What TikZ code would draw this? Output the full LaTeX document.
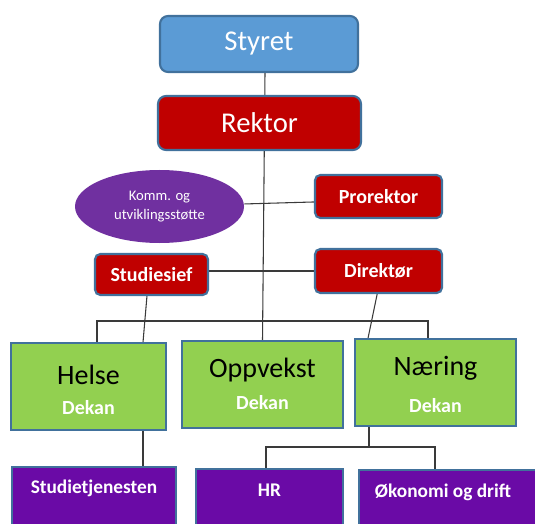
\documentclass[tikz,border=0pt]{standalone}
\usepackage{fontspec}
\setmainfont{Carlito}
\usetikzlibrary{backgrounds,shapes.geometric}
\definecolor{blueF}{HTML}{5B9BD5}
\definecolor{edgeC}{HTML}{41719C}
\definecolor{redF}{HTML}{C00000}
\definecolor{purpE}{HTML}{7030A0}
\definecolor{greenF}{HTML}{92D050}
\definecolor{purpB}{HTML}{6A0AA6}
\definecolor{lineC}{HTML}{3A3A3A}
\def\pxu{0.75pt}
\tikzset{
  topbox/.style={draw=edgeC, line width=1.6pt, rounded corners=6pt, text=white, font=\fontsize{21.5}{25}\selectfont},
  midbox/.style={draw=edgeC, line width=1.6pt, rounded corners=4pt, fill=redF, text=white, font=\bfseries\fontsize{15}{18}\selectfont},
  facbox/.style={draw=edgeC, line width=1.1pt, fill=greenF, minimum height=87*\pxu},
  unitbox/.style={draw=edgeC, line width=1.1pt, fill=purpB, minimum height=92*\pxu},
  facname/.style={text=black, font=\fontsize{21}{25}\selectfont},
  deklabel/.style={text=white, font=\bfseries\fontsize{15}{18}\selectfont},
  unitlabel/.style={text=white, font=\bfseries\fontsize{14.5}{18}\selectfont},
  conn/.style={draw=lineC, line width=0.8pt}
}
\begin{document}
\begin{tikzpicture}[x=0.75pt,y=-0.75pt]
\useasboundingbox (0,0) rectangle (535,524);
\clip (0,0) rectangle (535,524);

% nodes
\node[topbox, fill=blueF, minimum width=198*\pxu, minimum height=56*\pxu] (styret) at (259,44) {Styret};
\node[topbox, fill=redF, minimum width=203*\pxu, minimum height=54*\pxu] (rektor) at (259.5,123) {Rektor};
\node[ellipse, fill=purpE, minimum width=169*\pxu, minimum height=73*\pxu, text=white, align=center,
      font=\fontsize{11}{14}\selectfont] (komm) at (159.5,206.5) {Komm. og\\utviklingsstøtte};
\node[midbox, minimum width=127*\pxu, minimum height=43*\pxu] (prorektor) at (378.5,196.5) {Prorektor};
\node[midbox, minimum width=113*\pxu, minimum height=41*\pxu] (studiesief) at (151.5,274.5) {Studiesief};
\node[midbox, minimum width=127*\pxu, minimum height=44*\pxu] (direktor) at (378.5,271) {Direktør};

\node[facbox, minimum width=155*\pxu] (helse) at (88.5,386.5) {};
\node[facbox, minimum width=161*\pxu] (oppvekst) at (262.5,384.5) {};
\node[facbox, minimum width=161*\pxu] (naering) at (435.5,382.5) {};
\node[facname] (helseT) at (88.5,375) {Helse};
\node[deklabel] (helseD) at (88.5,408) {Dekan};
\node[facname] (oppvekstT) at (262.5,370) {Oppvekst};
\node[deklabel] (oppvekstD) at (262.5,403) {Dekan};
\node[facname] (naeringT) at (435.5,368) {Næring};
\node[deklabel] (naeringD) at (435.5,406) {Dekan};

\node[unitbox, minimum width=164*\pxu] (studtj) at (94,513) {};
\node[unitbox, minimum width=147*\pxu] (hr) at (269.5,515) {};
\node[unitbox, minimum width=181*\pxu] (okon) at (449.5,516) {};
\node[unitlabel] (studtjT) at (94,488) {Studietjenesten};
\node[unitlabel] (hrT) at (269.5,490) {HR};
\node[unitlabel] (okonT) at (443,492) {Økonomi og drift};

% helper coordinates for connector x positions
\coordinate (sx) at (143,0);
\coordinate (dx) at (368,0);
\coordinate (barL) at (97,321);
\coordinate (barR) at (428,321);
\coordinate (lbarL) at (266,447);
\coordinate (lbarR) at (435,447);
\coordinate (lmid) at (369,0);

\begin{scope}[on background layer]
  \draw[conn] ([xshift=4.5pt]styret.south) -- (oppvekst.north);
  \draw[conn] ([yshift=1.9pt]komm.east) -- ([yshift=-4.1pt]prorektor.west);
  \draw[conn] (direktor.west -| studiesief.east) -- (direktor.west);
  \draw[conn] ([xshift=-3.4pt]studiesief.south) -- (helse.north -| sx);
  \draw[conn] ([xshift=-1pt]direktor.south) -- (naering.north -| dx);
  \draw[conn] (helse.north -| barL) -- (barL) -- (barR) -- (naering.north -| barR);
  \draw[conn] (helse.south -| sx) -- (studtj.north -| sx);
  \draw[conn] (naering.south -| lmid) -- (lbarL -| lmid);
  \draw[conn] (hr.north -| lbarL) -- (lbarL) -- (lbarR) -- (okon.north -| lbarR);
\end{scope}
\end{tikzpicture}
\end{document}
